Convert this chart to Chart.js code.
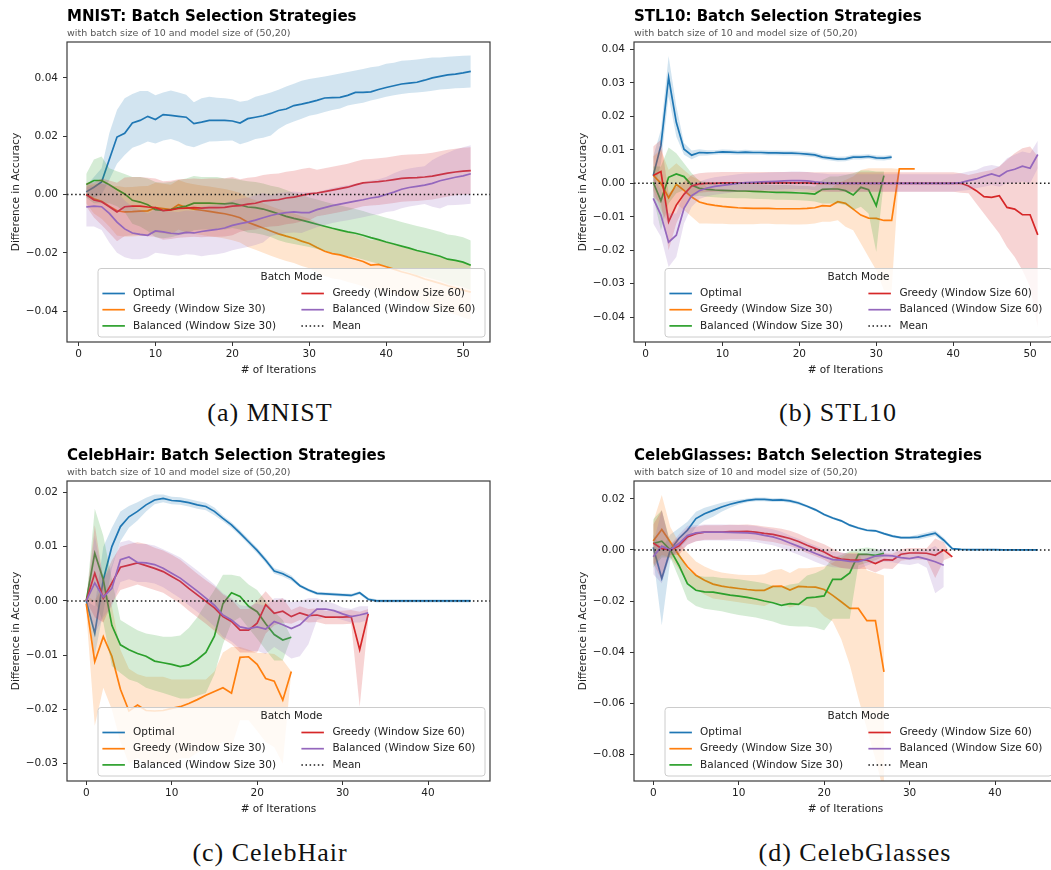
<!DOCTYPE html>
<html lang="en">
<head>
<meta charset="utf-8" />
<title>Batch Selection Strategies</title>
<script src="https://cdn.jsdelivr.net/npm/chart.js"></script>
<style>
  html, body { margin: 0; padding: 0; background: #fff; overflow: hidden; }
  body { width: 1051px; height: 870px; position: relative; }
  .panel { position: absolute; width: 500px; height: 390px; }
  .caption {
    position: absolute; transform: translateX(-50%); white-space: nowrap;
    font-family: "Liberation Serif", "DejaVu Serif", serif; font-size: 26px;
    letter-spacing: 1px; line-height: 28px; color: #111;
  }
</style>
</head>
<body>
<div class="panel" style="left:0;top:0"><canvas id="mnist" width="500" height="390"></canvas></div>
<div class="panel" style="left:567px;top:0"><canvas id="stl" width="500" height="390"></canvas></div>
<div class="panel" style="left:0;top:439px"><canvas id="hair" width="500" height="390"></canvas></div>
<div class="panel" style="left:567px;top:439px"><canvas id="glasses" width="500" height="390"></canvas></div>

<div class="caption" style="left:270px;top:399px">(a) MNIST</div>
<div class="caption" style="left:838px;top:399px">(b) STL10</div>
<div class="caption" style="left:270px;top:839px">(c) CelebHair</div>
<div class="caption" style="left:855px;top:839px">(d) CelebGlasses</div>

<script>
const seriesNames = ['Optimal', 'Greedy (Window Size 30)', 'Balanced (Window Size 30)',
                     'Greedy (Window Size 60)', 'Balanced (Window Size 60)'];
const seriesColors = ['#1f77b4', '#ff7f0e', '#2ca02c', '#d62728', '#9467bd'];
const meanLabel = 'Mean';
const meanLevel = 0;
const legendTitle = 'Batch Mode';
const subtitleText = 'with batch size of 10 and model size of (50,20)';
const xAxisLabel = '# of Iterations';
const yAxisLabel = 'Difference in Accuracy';

// ---------- MNIST ----------
const mnistIters = [1,2,3,4,5,6,7,8,9,10,11,12,13,14,15,16,17,18,19,20,21,22,23,24,25,26,27,28,29,30,
  31,32,33,34,35,36,37,38,39,40,41,42,43,44,45,46,47,48,49,50,51];
const mnistXRange = [-1.5, 53.5];
const mnistYRange = [-0.0506, 0.0523];
const mnistXTicks = [0, 10, 20, 30, 40, 50];
const mnistYTicks = [-0.04, -0.02, 0, 0.02, 0.04];

const mnistOptimal = [.0009,.0025,.0043,.012,.0197,.021,.0245,.0254,.0268,.0257,
  .0274,.0271,.0268,.0265,.0243,.0248,.0254,.0254,.0254,.0252,
  .0245,.026,.0265,.027,.0278,.0288,.0293,.0305,.031,.0316,
  .0323,.0331,.0332,.0333,.034,.035,.035,.0352,.036,.0367,
  .0373,.0379,.0382,.0385,.0392,.04,.0405,.041,.0413,.0417,.0422];
const mnistOptimalHi = [.003,.006,.009,.021,.029,.033,.0345,.0355,.0355,.034,
  .035,.0357,.035,.0342,.0316,.033,.0335,.0332,.033,.0327,
  .0318,.0322,.0335,.0342,.035,.0359,.037,.038,.039,.0396,
  .04,.0405,.041,.0415,.042,.0425,.043,.0436,.044,.0448,
  .0452,.0459,.046,.0463,.0466,.047,.047,.0472,.0474,.0476,.0477];
const mnistOptimalLo = [-.001,-.001,0,.005,.0105,.0135,.016,.017,.0182,.0175,
  .0185,.019,.0182,.0168,.0162,.0172,.0182,.0183,.0184,.0185,
  .0172,.018,.019,.0195,.0202,.0225,.024,.025,.026,.027,
  .0275,.0283,.029,.0295,.0305,.031,.0315,.0322,.0328,.0335,
  .034,.0345,.0348,.035,.0352,.0356,.036,.0362,.0364,.0365,.0367];

const mnistGreedy30 = [0,-.0015,-.0023,-.004,-.0056,-.006,-.0059,-.0057,-.0056,-.0045,
  -.0048,-.0052,-.0035,-.0045,-.005,-.0054,-.0058,-.0062,-.0066,-.0072,
  -.008,-.0095,-.0105,-.0115,-.0125,-.0135,-.0143,-.015,-.016,-.0168,
  -.0182,-.0195,-.0203,-.0207,-.0215,-.0222,-.023,-.0242,-.024,-.0248,
  -.0256,-.0265,-.0272,-.028,-.029,-.0297,-.0305,-.0313,-.032,-.0328,-.0335];
const mnistGreedy30Hi = [.003,.0035,.0037,.003,.0029,.0025,.0026,.0028,.0029,.004,
  .0037,.0033,.005,.004,.0035,.0031,.0027,.0023,.0019,.0013,
  .0005,-.001,-.002,-.003,-.004,-.005,-.0058,-.0065,-.0075,-.0083,
  -.0097,-.011,-.0118,-.0122,-.013,-.0137,-.0145,-.0157,-.0155,-.0165,
  -.0172,-.018,-.0186,-.0193,-.0202,-.0208,-.0215,-.0222,-.0228,-.0234,-.024];
const mnistGreedy30Lo = [-.003,-.0065,-.0083,-.011,-.0141,-.0145,-.0144,-.0142,-.0141,-.013,
  -.0133,-.0137,-.012,-.013,-.0135,-.0139,-.0143,-.0147,-.0151,-.0157,
  -.0165,-.018,-.019,-.02,-.021,-.022,-.0228,-.0235,-.0245,-.0253,
  -.0267,-.028,-.0288,-.0292,-.03,-.0307,-.0315,-.0327,-.0325,-.0331,
  -.034,-.035,-.0358,-.0367,-.0378,-.0386,-.0395,-.0404,-.0412,-.0422,-.043];

const mnistBalanced30 = [.0034,.0048,.0048,.0033,.0017,.0002,-.002,-.0026,-.0035,-.0052,
  -.0055,-.0052,-.0045,-.004,-.003,-.003,-.003,-.0031,-.0032,-.003,
  -.0036,-.0043,-.0045,-.005,-.0058,-.0066,-.0075,-.0082,-.0088,-.0095,
  -.0102,-.0109,-.0116,-.0122,-.0128,-.0133,-.014,-.0148,-.0155,-.0163,
  -.017,-.0177,-.0184,-.0192,-.0198,-.0205,-.0212,-.0222,-.0226,-.0232,-.0243];
const mnistBalanced30Hi = [.007,.012,.013,.009,.008,.007,.006,.006,.0055,.0043,
  .004,.0043,.005,.0055,.0063,.006,.006,.006,.0055,.0055,
  .005,.0045,.0043,.0038,.003,.0025,.0015,.0005,-.0002,-.001,
  -.0017,-.0025,-.0032,-.0038,-.0044,-.005,-.0057,-.0065,-.0072,-.008,
  -.0087,-.0094,-.0101,-.0108,-.0114,-.0121,-.0128,-.0137,-.0141,-.0147,-.0158];
const mnistBalanced30Lo = [-.001,-.003,-.003,-.003,-.004,-.006,-.01,-.011,-.0125,-.0147,
  -.015,-.0147,-.014,-.0135,-.0123,-.012,-.012,-.012,-.012,-.0115,
  -.012,-.013,-.0133,-.0138,-.0146,-.0157,-.0165,-.017,-.0175,-.018,
  -.0187,-.0193,-.02,-.0206,-.0212,-.0216,-.0223,-.0231,-.0238,-.0246,
  -.0253,-.026,-.0267,-.0276,-.0282,-.0289,-.0296,-.0307,-.0311,-.0317,-.0328];

const mnistGreedy60 = [0,-.0019,-.0025,-.0042,-.006,-.0042,-.004,-.004,-.0043,-.0045,
  -.0055,-.0053,-.0048,-.0047,-.0045,-.0047,-.0045,-.0045,-.0044,-.004,
  -.0038,-.0033,-.003,-.0023,-.002,-.0018,-.0012,-.0009,-.0003,.0002,
  .0005,.001,.0015,.002,.0025,.0033,.004,.0042,.0044,.0047,
  .0051,.0055,.0057,.0058,.006,.0063,.0068,.0073,.0077,.008,.0082];
const mnistGreedy60Hi = [.004,.0041,.0055,.0048,.004,.0058,.006,.006,.0057,.0055,
  .0045,.0047,.0052,.0053,.0055,.0053,.0055,.0055,.0056,.006,
  .0052,.0057,.006,.0067,.007,.0072,.0078,.0081,.0087,.0092,
  .0085,.009,.0095,.01,.0105,.0113,.012,.0122,.0124,.0127,
  .0131,.0135,.0137,.0138,.014,.0143,.0148,.0153,.0157,.016,.0162];
const mnistGreedy60Lo = [-.004,-.0079,-.0105,-.0132,-.016,-.0142,-.014,-.014,-.0143,-.0145,
  -.0155,-.0153,-.0148,-.0147,-.0145,-.0147,-.0145,-.0145,-.0144,-.014,
  -.0128,-.0123,-.012,-.0113,-.011,-.0108,-.0102,-.0099,-.0093,-.0088,
  -.0075,-.007,-.0065,-.006,-.0055,-.0047,-.004,-.0038,-.0036,-.0033,
  -.0029,-.0025,-.0023,-.0022,-.002,-.0017,-.0012,-.0007,-.0003,0,.0002];

const mnistBalanced60 = [-.0043,-.004,-.0042,-.0065,-.0095,-.0118,-.0132,-.0137,-.014,-.0125,
  -.0128,-.0133,-.0135,-.013,-.0132,-.0127,-.0123,-.012,-.0115,-.0106,
  -.01,-.0095,-.0088,-.008,-.0072,-.0066,-.0062,-.006,-.0062,-.0062,
  -.0052,-.0045,-.0038,-.0033,-.0028,-.0023,-.0018,-.0012,-.0008,0,
  .0008,.0018,.0024,.0028,.0032,.0038,.0047,.0053,.0059,.0064,.0071];
const mnistBalanced60Hi = [.0024,.003,.0038,.0035,.001,-.0021,-.0042,-.0052,-.0065,-.005,
  -.0053,-.0058,-.006,-.0055,-.0057,-.0042,-.0038,-.0035,-.003,-.0021,
  -.0015,-.001,-.0003,.0005,-.0002,.0004,.0008,.001,.0008,.0008,
  .0008,.0015,.0022,.0027,.0032,.0037,.0042,.0048,.0052,.006,
  .0073,.0083,.0089,.0093,.0097,.0118,.0132,.0143,.0154,.0162,.0169];
const mnistBalanced60Lo = [-.011,-.011,-.0122,-.0165,-.02,-.0215,-.0222,-.0222,-.0215,-.02,
  -.0203,-.0208,-.021,-.0205,-.0207,-.0212,-.0208,-.0205,-.02,-.0191,
  -.0185,-.018,-.0173,-.0165,-.0142,-.0136,-.0132,-.013,-.0132,-.0122,
  -.0112,-.0105,-.0098,-.0093,-.0088,-.0083,-.0078,-.0072,-.0068,-.006,
  -.0057,-.0047,-.0041,-.0037,-.0033,-.0042,-.0048,-.0037,-.0036,-.0034,-.0032];

// ---------- STL10 ----------
const stlIters = [1,2,3,4,5,6,7,8,9,10,11,12,13,14,15,16,17,18,19,20,21,22,23,24,25,26,27,28,29,30,
  31,32,33,34,35,36,37,38,39,40,41,42,43,44,45,46,47,48,49,50,51];
const stlXRange = [-1.5, 53.5];
const stlYRange = [-0.0474, 0.0422];
const stlXTicks = [0, 10, 20, 30, 40, 50];
const stlYTicks = [-0.04, -0.03, -0.02, -0.01, 0, 0.01, 0.02, 0.03, 0.04];

const stlOptimal = [.0023,.0113,.0316,.0182,.0102,.0084,.0092,.0091,.0092,.0094,
  .0093,.0092,.0093,.0092,.0092,.0091,.0091,.009,.009,.0089,
  .0087,.0085,.0078,.0075,.0072,.0073,.0078,.0078,.008,.0076,.0075,.0078];
const stlOptimalHi = [.008,.016,.038,.023,.012,.0098,.0102,.0099,.0099,.0101,
  .01,.0099,.01,.0099,.0099,.0098,.0098,.0097,.0097,.0096,
  .0094,.0092,.0085,.0082,.0079,.008,.0085,.0085,.0087,.0083,.0082,.0085];
const stlOptimalLo = [-.003,.006,.026,.014,.0085,.0072,.0082,.0083,.0085,.0087,
  .0086,.0085,.0086,.0085,.0085,.0084,.0084,.0083,.0083,.0082,
  .008,.0078,.0071,.0068,.0065,.0066,.0071,.0071,.0073,.0069,.0068,.0071];

const stlGreedy30 = [.0024,0,-.0043,-.0003,-.0021,-.0041,-.0056,-.0062,-.0066,-.0069,
  -.0071,-.0073,-.0074,-.0075,-.0075,-.0075,-.0076,-.0076,-.0076,-.0076,
  -.0075,-.0073,-.0067,-.0068,-.0055,-.006,-.0077,-.0095,-.0104,-.0105,
  -.0111,-.0111,.0043,.0043,.0043];
const stlGreedy30Hi = [.008,.01,.004,.006,.004,.002,.001,-.0012,-.0016,-.0019,
  -.0021,-.0023,-.0024,-.0025,-.0025,-.0025,-.0026,-.0026,-.0026,-.0026,
  -.0025,-.0023,-.002,-.0018,0,.001,.002,.004,.0045,.0045,
  .0045,.0045,.0043,.0043,.0043];
const stlGreedy30Lo = [-.002,-.008,-.012,-.006,-.008,-.01,-.012,-.012,-.0121,-.0121,
  -.0122,-.0122,-.0122,-.0122,-.0121,-.0121,-.0122,-.0122,-.0123,-.0123,
  -.0122,-.012,-.0115,-.0115,-.011,-.013,-.014,-.018,-.022,-.026,
  -.032,-.032,.0043,.0043,.0043];

const stlBalanced30 = [.0003,-.0052,.0018,.0028,.002,-.0005,-.0015,-.0018,-.002,-.0021,
  -.0022,-.0023,-.0023,-.0024,-.0025,-.0026,-.0027,-.0027,-.0028,-.0029,
  -.003,-.0032,-.0018,-.0017,-.0017,-.0022,-.0035,-.0012,-.0019,-.0067,.0023];
const stlBalanced30Hi = [.005,.005,.0107,.009,.006,.003,.0007,.0004,.0002,.0001,
  0,-.0001,-.0001,-.0002,-.0003,-.0004,-.0005,-.0005,-.0006,-.0007,
  -.0008,-.001,.001,.002,.002,.0025,.003,.0038,.0038,.0035,.0035];
const stlBalanced30Lo = [-.004,-.014,-.006,-.003,-.002,-.004,-.0037,-.004,-.0042,-.0043,
  -.0044,-.0045,-.0045,-.0046,-.0047,-.0048,-.0049,-.0049,-.005,-.0051,
  -.0052,-.0054,-.006,-.006,-.006,-.0065,-.008,-.007,-.009,-.0205,.001];

const stlGreedy60 = [.0023,.0035,-.0115,-.0065,-.0033,-.0008,-.0002,0,0,.0001,
  .0001,.0001,.0001,.0001,.0001,.0001,.0001,.0001,.0001,.0001,
  .0001,0,0,0,0,0,0,0,0,0,
  0,0,0,0,0,0,0,0,0,0,
  0,-.0008,-.0022,-.004,-.0042,-.0037,-.0072,-.0077,-.0094,-.0094,-.0154];
const stlGreedy60Hi = [.011,.013,-.003,-.001,.0005,.0025,.003,.0032,.0033,.0034,
  .0034,.0034,.0034,.0034,.0034,.0034,.0034,.0034,.0034,.0034,
  .0034,.0033,.0033,.0033,.0033,.0033,.0033,.0033,.0033,.0033,
  .0033,.0033,.0033,.0033,.0033,.0033,.0033,.0033,.0033,.0033,
  .003,.0025,.003,.0035,.004,.005,.007,.009,.0105,.011,.008];
const stlGreedy60Lo = [-.004,-.006,-.02,-.012,-.007,-.004,-.0028,-.0026,-.0025,-.0025,
  -.0025,-.0025,-.0025,-.0025,-.0025,-.0025,-.0025,-.0025,-.0025,-.0025,
  -.0025,-.0025,-.0025,-.0025,-.0025,-.0025,-.0025,-.0025,-.0025,-.0025,
  -.0025,-.0025,-.0025,-.0025,-.0025,-.0025,-.0025,-.0025,-.0025,-.0025,
  -.0028,-.003,-.006,-.009,-.012,-.015,-.019,-.022,-.026,-.031,-.043];

const stlBalanced60 = [-.0045,-.0095,-.0176,-.0155,-.0075,-.0037,-.0022,-.0014,-.0009,-.0006,
  -.0003,0,.0002,.0003,.0004,.0005,.0006,.0007,.0008,.0008,
  .0007,.0004,.0002,0,0,0,0,0,0,0,
  0,0,0,0,0,0,0,0,0,0,
  .0002,.0008,.0013,.0021,.0028,.0021,.0036,.0042,.0051,.0045,.0086];
const stlBalanced60Hi = [.002,-.002,-.009,-.009,-.003,0,.0005,.0013,.0018,.0021,
  .0024,.0027,.0029,.003,.0031,.0032,.0033,.0034,.0035,.0035,
  .0034,.0031,.0029,.0027,.0027,.0027,.0027,.0027,.0027,.0027,
  .0027,.0027,.0027,.0027,.0027,.0027,.0027,.0027,.0027,.0027,
  .003,.0035,.004,.005,.0055,.005,.0075,.0085,.0095,.009,.0127];
const stlBalanced60Lo = [-.012,-.016,-.025,-.022,-.012,-.007,-.0047,-.0039,-.0034,-.0031,
  -.0028,-.0025,-.0023,-.0022,-.0021,-.002,-.0019,-.0018,-.0017,-.0017,
  -.0018,-.0021,-.0023,-.0025,-.0025,-.0025,-.0025,-.0025,-.0025,-.0025,
  -.0025,-.0025,-.0025,-.0025,-.0025,-.0025,-.0025,-.0025,-.0025,-.0025,
  -.0022,-.002,-.0015,-.001,-.0005,-.001,0,0,.0005,0,.0045];

// ---------- CelebHair ----------
const hairIters = [0,1,2,3,4,5,6,7,8,9,10,11,12,13,14,15,16,17,18,19,20,21,22,23,24,25,26,27,28,29,
  30,31,32,33,34,35,36,37,38,39,40,41,42,43,44,45];
const hairXRange = [-2.25, 47.25];
const hairYRange = [-0.0332, 0.0221];
const hairXTicks = [0, 10, 20, 30, 40];
const hairYTicks = [-0.03, -0.02, -0.01, 0, 0.01, 0.02];

const hairOptimal = [0,-.006,.0039,.01,.0137,.0155,.0165,.0177,.0186,.0189,
  .0185,.0184,.0181,.0177,.0174,.0165,.0152,.014,.0125,.0109,
  .0093,.0075,.0055,.005,.0042,.0028,.002,.0014,.0013,.0012,
  .0011,.001,.0015,.0003,0,0,0,0,0,0,0,0,0,0,0,0];
const hairOptimalHi = [0,-.001,.01,.0135,.0165,.0175,.0182,.019,.0196,.0196,
  .0192,.0191,.0188,.0184,.0181,.0172,.0157,.0145,.013,.0114,
  .0098,.008,.006,.0055,.0047,.0031,.0023,.0017,.0016,.0015,
  .0014,.0013,.0018,.0006,.0003,.0003,.0003,.0003,.0003,.0003,
  .0003,.0003,.0003,.0003,.0003,.0003];
const hairOptimalLo = [0,-.01,-.002,.006,.011,.0135,.0148,.0165,.0178,.0182,
  .0178,.0177,.0174,.017,.0167,.0158,.0147,.0135,.012,.0104,
  .0088,.007,.005,.0045,.0037,.0025,.0017,.0011,.001,.0009,
  .0008,.0007,.0012,0,-.0003,-.0003,-.0003,-.0003,-.0003,-.0003,
  -.0003,-.0003,-.0003,-.0003,-.0003,-.0003];

const hairGreedy30 = [-.0005,-.0112,-.0066,-.0102,-.0163,-.0203,-.0192,-.0202,-.0203,-.0202,
  -.0198,-.0195,-.0189,-.0182,-.0174,-.0167,-.016,-.017,-.0104,-.0103,
  -.0117,-.0143,-.0148,-.0183,-.013];
const hairGreedy30Hi = [.001,0,.003,-.001,-.009,-.0125,-.0135,-.014,-.014,-.014,
  -.0145,-.0145,-.0145,-.0145,-.0145,-.013,-.0095,-.0085,-.0085,-.009,
  -.0096,-.0096,-.0098,-.0109,-.013];
const hairGreedy30Lo = [-.002,-.023,-.016,-.02,-.026,-.03,-.029,-.03,-.03,-.03,
  -.03,-.029,-.029,-.028,-.027,-.027,-.026,-.027,-.022,-.022,
  -.024,-.026,-.027,-.03,-.013];

const hairBalanced30 = [0,.0088,.0039,-.0045,-.0081,-.009,-.0097,-.0102,-.0111,-.0114,
  -.0117,-.0121,-.0118,-.0108,-.0095,-.0065,-.0005,.0015,.0008,-.001,
  -.002,-.0042,-.0062,-.0072,-.0067];
const hairBalanced30Hi = [0,.017,.012,.004,-.0035,-.0045,-.0054,-.006,-.0063,-.0066,
  -.0066,-.0064,-.005,-.003,-.0005,.002,.0048,.0048,.0045,.003,
  .002,0,-.002,-.0035,-.0067];
const hairBalanced30Lo = [0,0,-.004,-.012,-.0133,-.0145,-.015,-.016,-.0165,-.017,
  -.0175,-.018,-.018,-.0175,-.017,-.0135,-.008,-.004,-.003,-.005,
  -.007,-.009,-.011,-.011,-.0067];

const hairGreedy60 = [0,.0051,.0005,.0033,.0062,.0066,.007,.0065,.006,.0054,
  .0045,.0036,.0023,.0011,-.0001,-.0013,-.0029,-.0038,-.0054,-.0054,
  -.0041,-.0007,-.0023,-.0019,-.0029,-.0022,-.0027,-.0026,-.003,-.003,
  -.003,-.0029,-.009,-.0024];
const hairGreedy60Hi = [0,.014,.004,.0075,.01,.0105,.0108,.0105,.0098,.0093,
  .0085,.0076,.0063,.005,.0038,.0027,.0012,.0002,-.0015,-.0015,
  0,.0018,0,.0005,-.0017,-.001,-.0015,-.0014,-.0018,-.0018,
  -.0018,-.0017,-.002,-.0015];
const hairGreedy60Lo = [0,-.003,-.004,-.0005,.002,.0025,.003,.0025,.002,.0015,
  .0005,-.0005,-.0018,-.003,-.0042,-.0055,-.007,-.008,-.0095,-.0095,
  -.0095,-.006,-.0045,-.004,-.0042,-.0035,-.004,-.0039,-.0043,-.0043,
  -.0043,-.0042,-.0195,-.0035];

const hairBalanced60 = [0,.0033,.0007,.0023,.0076,.0081,.0071,.007,.0067,.006,
  .0051,.0042,.003,.0018,.0005,-.0008,-.0026,-.0035,-.0048,-.0051,
  -.0048,-.0052,-.0038,-.0044,-.0051,-.0044,-.0029,-.0015,-.0015,-.0018,
  -.0024,-.0029,-.0026,-.0022];
const hairBalanced60Hi = [0,.012,.004,.0065,.0108,.0112,.0105,.0105,.0102,.0095,
  .0088,.008,.0068,.0056,.0043,.003,.0014,.0005,-.0008,-.001,
  -.0005,-.001,.0005,.0005,-.0002,0,.0005,.0005,0,-.0005,
  -.0012,-.0015,-.001,-.001];
const hairBalanced60Lo = [0,-.006,-.003,-.001,.0035,.004,.0035,.0035,.0032,.0025,
  .0015,.0005,-.0008,-.002,-.0033,-.0047,-.0066,-.0075,-.0088,-.0093,
  -.0092,-.0098,-.0085,-.0095,-.0106,-.0102,-.008,-.0035,-.003,-.003,
  -.0035,-.004,-.004,-.0035];

// ---------- CelebGlasses ----------
const glassesIters = [0,1,2,3,4,5,6,7,8,9,10,11,12,13,14,15,16,17,18,19,20,21,22,23,24,25,26,27,28,29,
  30,31,32,33,34,35,36,37,38,39,40,41,42,43,44,45];
const glassesXRange = [-2.25, 47.25];
const glassesYRange = [-0.0905, 0.027];
const glassesXTicks = [0, 10, 20, 30, 40];
const glassesYTicks = [-0.08, -0.06, -0.04, -0.02, 0, 0.02];

const glassesOptimal = [.001,-.0112,0,.0045,.0077,.0123,.0142,.0155,.0168,.0179,
  .0187,.0194,.0198,.0198,.0195,.0196,.0192,.0184,.0171,.0157,
  .0139,.0125,.0114,.0097,.0086,.0077,.0075,.0064,.0054,.0048,
  .0048,.005,.0058,.0066,.0038,.0005,.0002,.0001,.0001,.0001,
  .0001,0,0,0,0,0];
const glassesOptimalHi = [.006,.0005,.006,.0085,.011,.015,.0165,.0175,.0185,.0192,
  .0197,.0201,.0205,.0205,.0202,.0203,.0199,.0191,.0176,.0162,
  .0144,.013,.0119,.0102,.0091,.0082,.008,.0069,.0059,.0053,
  .0053,.006,.0068,.0076,.0048,.001,.0005,.0004,.0004,.0004,
  .0004,.0003,.0003,.0003,.0003,.0003];
const glassesOptimalLo = [-.003,-.0295,-.004,.0005,.004,.009,.0115,.013,.015,.0165,
  .0178,.0187,.0191,.0191,.0188,.0189,.0185,.0177,.0166,.0152,
  .0134,.012,.0109,.0092,.0081,.0072,.007,.0059,.0049,.0043,
  .0043,.004,.0048,.0056,.0028,0,-.0001,-.0002,-.0002,-.0002,
  -.0002,-.0003,-.0003,-.0003,-.0003,-.0003];

const glassesGreedy30 = [.0035,.008,.0031,-.0021,-.0066,-.0099,-.0119,-.0134,-.0142,-.0147,
  -.0151,-.0155,-.0158,-.0158,-.0143,-.0142,-.0157,-.0143,-.0145,-.0146,
  -.0155,-.0178,-.0203,-.0229,-.0229,-.0277,-.0277,-.0478];
const glassesGreedy30Hi = [.011,.0215,.009,.003,-.001,-.0045,-.0065,-.008,-.0088,-.0093,
  -.0097,-.0098,-.0098,-.0095,-.008,-.0075,-.009,-.0072,-.0072,-.0068,
  -.0065,-.005,-.003,-.001,-.001,-.008,-.009,-.01];
const glassesGreedy30Lo = [-.006,-.002,-.003,-.0075,-.0125,-.0155,-.0175,-.019,-.0195,-.02,
  -.0205,-.021,-.0215,-.022,-.0205,-.021,-.0225,-.0215,-.022,-.0225,
  -.026,-.028,-.035,-.045,-.058,-.07,-.082,-.095];

const glassesBalanced30 = [.0025,.0034,0,-.006,-.0132,-.0158,-.0164,-.0165,-.0171,-.0177,
  -.0181,-.0186,-.0192,-.02,-.0207,-.0217,-.021,-.0213,-.0188,-.0185,
  -.018,-.0115,-.0115,-.009,-.0017,-.0017,-.0021,-.0013];
const glassesBalanced30Hi = [.012,.0155,.003,-.001,-.0075,-.01,-.0105,-.0105,-.011,-.0112,
  -.0115,-.012,-.0125,-.013,-.014,-.0145,-.0135,-.013,-.01,-.009,
  -.0075,-.003,-.002,-.0005,.0005,.001,.0005,-.0005];
const glassesBalanced30Lo = [-.007,-.003,-.003,-.011,-.0195,-.022,-.023,-.0235,-.024,-.0248,
  -.0255,-.026,-.0265,-.0272,-.028,-.0292,-.0298,-.03,-.03,-.0305,
  -.0315,-.027,-.027,-.027,-.006,-.005,-.004,-.0025];

const glassesGreedy60 = [.0027,.0005,0,.0015,.0051,.0064,.007,.007,.007,.0072,
  .0072,.0073,.007,.0065,.0061,.0053,.0045,.0033,.0018,.0005,
  -.0008,-.0027,-.0036,-.0039,-.004,-.004,-.0053,-.0038,-.004,-.0017,
  -.0012,-.0012,-.0013,-.0021,0,-.0027];
const glassesGreedy60Hi = [.01,.0155,.002,.005,.0085,.0091,.0097,.0097,.0097,.0099,
  .0099,.01,.0097,.0092,.0088,.0083,.0075,.0063,.0048,.0035,
  .0022,.0005,-.0011,-.0014,-.0015,-.0015,-.0028,-.0013,-.0015,.0003,
  .0008,.0008,.0007,.0045,.003,-.0027];
const glassesGreedy60Lo = [-.005,-.012,-.002,-.002,.002,.0034,.004,.004,.004,.0042,
  .0042,.0043,.004,.0035,.0031,.0023,.0015,.0003,-.0012,-.0025,
  -.0038,-.006,-.0071,-.0074,-.0075,-.0075,-.0088,-.0073,-.0075,-.0042,
  -.0037,-.0037,-.0038,-.011,-.004,-.0027];

const glassesBalanced60 = [-.0027,.0015,0,.0025,.0057,.0067,.007,.007,.007,.0069,
  .0068,.0067,.0064,.0057,.0051,.0041,.0027,.0014,0,-.0014,
  -.0027,-.0038,-.004,-.0045,-.0046,-.0036,-.0024,-.0021,-.0023,-.003,
  -.0034,-.0027,-.0036,-.0046,-.006];
const glassesBalanced60Hi = [.0025,.0155,.002,.006,.0095,.0097,.01,.01,.01,.0099,
  .0098,.0097,.0094,.0087,.0081,.0071,.0057,.0044,.003,.0016,
  .0003,-.0008,-.001,-.0015,-.0016,-.0011,.0001,.0004,.0002,-.0005,
  -.0009,-.0002,0,.0015,-.0015];
const glassesBalanced60Lo = [-.0095,-.013,-.002,-.001,.002,.0034,.0037,.0037,.0037,.0036,
  .0035,.0034,.0031,.0024,.0018,.0008,-.0006,-.0019,-.0033,-.0047,
  -.006,-.0068,-.007,-.0075,-.0076,-.0061,-.0049,-.0046,-.0048,-.0055,
  -.0059,-.0052,-.007,-.017,-.0145];

const panels = [
  { id: 'mnist', title: 'MNIST: Batch Selection Strategies', iters: mnistIters,
    xRange: mnistXRange, yRange: mnistYRange, xTicks: mnistXTicks, yTicks: mnistYTicks,
    series: [[mnistOptimal, mnistOptimalLo, mnistOptimalHi],
             [mnistGreedy30, mnistGreedy30Lo, mnistGreedy30Hi],
             [mnistBalanced30, mnistBalanced30Lo, mnistBalanced30Hi],
             [mnistGreedy60, mnistGreedy60Lo, mnistGreedy60Hi],
             [mnistBalanced60, mnistBalanced60Lo, mnistBalanced60Hi]] },
  { id: 'stl', title: 'STL10: Batch Selection Strategies', iters: stlIters,
    xRange: stlXRange, yRange: stlYRange, xTicks: stlXTicks, yTicks: stlYTicks,
    series: [[stlOptimal, stlOptimalLo, stlOptimalHi],
             [stlGreedy30, stlGreedy30Lo, stlGreedy30Hi],
             [stlBalanced30, stlBalanced30Lo, stlBalanced30Hi],
             [stlGreedy60, stlGreedy60Lo, stlGreedy60Hi],
             [stlBalanced60, stlBalanced60Lo, stlBalanced60Hi]] },
  { id: 'hair', title: 'CelebHair: Batch Selection Strategies', iters: hairIters,
    xRange: hairXRange, yRange: hairYRange, xTicks: hairXTicks, yTicks: hairYTicks,
    series: [[hairOptimal, hairOptimalLo, hairOptimalHi],
             [hairGreedy30, hairGreedy30Lo, hairGreedy30Hi],
             [hairBalanced30, hairBalanced30Lo, hairBalanced30Hi],
             [hairGreedy60, hairGreedy60Lo, hairGreedy60Hi],
             [hairBalanced60, hairBalanced60Lo, hairBalanced60Hi]] },
  { id: 'glasses', title: 'CelebGlasses: Batch Selection Strategies', iters: glassesIters,
    xRange: glassesXRange, yRange: glassesYRange, xTicks: glassesXTicks, yTicks: glassesYTicks,
    series: [[glassesOptimal, glassesOptimalLo, glassesOptimalHi],
             [glassesGreedy30, glassesGreedy30Lo, glassesGreedy30Hi],
             [glassesBalanced30, glassesBalanced30Lo, glassesBalanced30Hi],
             [glassesGreedy60, glassesGreedy60Lo, glassesGreedy60Hi],
             [glassesBalanced60, glassesBalanced60Lo, glassesBalanced60Hi]] }
];

const FONT = '"DejaVu Sans", Verdana, sans-serif';
const TEXT = '#222';
const LINE_W = 1.7;
const MEAN_DASH = [1.5, 2.6];

function toPoints(iters, values) {
  return values.map((v, i) => ({ x: iters[i], y: v }));
}

function withAlpha(hex, a) {
  const n = parseInt(hex.slice(1), 16);
  return `rgba(${(n >> 16) & 255},${(n >> 8) & 255},${n & 255},${a})`;
}

function fmtY(v) {
  const s = Math.abs(v).toFixed(2);
  return v < 0 ? '\u2212' + s : s;
}

function buildDatasets(p) {
  const sets = [];
  p.series.forEach(([mean, lo, hi], i) => {
    // earlier series sit underneath later ones
    const order = seriesNames.length + 1 - i;
    const color = seriesColors[i];
    sets.push({ label: seriesNames[i], data: toPoints(p.iters, mean), borderColor: color,
      borderWidth: LINE_W, pointRadius: 0, fill: false, order });
    sets.push({ label: seriesNames[i] + ' hi', data: toPoints(p.iters, hi), borderColor: 'rgba(0,0,0,0)',
      borderWidth: 0, pointRadius: 0, fill: false, order });
    sets.push({ label: seriesNames[i] + ' lo', data: toPoints(p.iters, lo), borderColor: 'rgba(0,0,0,0)',
      borderWidth: 0, pointRadius: 0, fill: '-1', backgroundColor: withAlpha(color, 0.2), order });
  });
  sets.push({ label: meanLabel,
    data: [{ x: p.xRange[0], y: meanLevel }, { x: p.xRange[1], y: meanLevel }],
    borderColor: '#1a1a1a', borderWidth: 1.5, borderDash: MEAN_DASH, pointRadius: 0, fill: false, order: 0 });
  return sets;
}

// title, subtitle, frame and the two-column legend
const panelDecor = {
  id: 'panelDecor',
  afterDatasetsDraw(chart, args, opts) {
    const { ctx, chartArea: a } = chart;
    const w = 387, h = 68.5;
    const lx = a.right - 5 - w, ly = a.bottom - 5 - h;
    ctx.save();
    ctx.beginPath();
    const r = 3;
    ctx.moveTo(lx + r, ly);
    ctx.lineTo(lx + w - r, ly); ctx.arcTo(lx + w, ly, lx + w, ly + r, r);
    ctx.lineTo(lx + w, ly + h - r); ctx.arcTo(lx + w, ly + h, lx + w - r, ly + h, r);
    ctx.lineTo(lx + r, ly + h); ctx.arcTo(lx, ly + h, lx, ly + h - r, r);
    ctx.lineTo(lx, ly + r); ctx.arcTo(lx, ly, lx + r, ly, r);
    ctx.closePath();
    ctx.fillStyle = 'rgba(255,255,255,0.8)';
    ctx.fill();
    ctx.strokeStyle = '#cccccc';
    ctx.lineWidth = 1;
    ctx.stroke();

    ctx.font = `10.5px ${FONT}`;
    ctx.fillStyle = TEXT;
    ctx.textBaseline = 'middle';
    ctx.textAlign = 'center';
    ctx.fillText(legendTitle, lx + w / 2, ly + 9);

    ctx.textAlign = 'left';
    opts.items.forEach((item, k) => {
      const col = k < 3 ? 0 : 1;
      const y = ly + 25 + (k % 3) * 16.2;
      const hx = lx + (col ? 203.4 : 4.4);
      ctx.beginPath();
      ctx.setLineDash(item.dash || []);
      ctx.strokeStyle = item.color;
      ctx.lineWidth = item.dash ? 1.5 : LINE_W;
      ctx.moveTo(hx, y);
      ctx.lineTo(hx + 22.5, y);
      ctx.stroke();
      ctx.setLineDash([]);
      ctx.fillStyle = TEXT;
      ctx.fillText(item.text, lx + (col ? 234.4 : 35), y);
    });
    ctx.restore();
  },
  afterDraw(chart, args, opts) {
    const { ctx, chartArea: a } = chart;
    ctx.save();
    ctx.strokeStyle = '#3b3b3b';
    ctx.lineWidth = 1.2;
    ctx.strokeRect(a.left, a.top, a.right - a.left, a.bottom - a.top);
    ctx.textAlign = 'left';
    ctx.textBaseline = 'alphabetic';
    ctx.fillStyle = '#000';
    ctx.font = `bold 15px ${FONT}`;
    ctx.fillText(opts.title, a.left, 21);
    ctx.fillStyle = '#555';
    ctx.font = `9.5px ${FONT}`;
    ctx.fillText(opts.subtitle, a.left, 35.5);
    ctx.restore();
  }
};

const legendItems = seriesNames.map((n, i) => ({ text: n, color: seriesColors[i] }))
  .concat([{ text: meanLabel, color: '#1a1a1a', dash: MEAN_DASH }]);

function axisCommon() {
  return {
    type: 'linear',
    border: { display: false },
    grid: { drawOnChartArea: false, drawTicks: true, tickLength: 4, tickColor: '#333', tickWidth: 1 },
  };
}

panels.forEach(p => {
  const ctx = document.getElementById(p.id).getContext('2d');
  new Chart(ctx, {
    type: 'line',
    data: { datasets: buildDatasets(p) },
    plugins: [panelDecor],
    options: {
      responsive: false,
      animation: false,
      devicePixelRatio: 1,
      events: [],
      layout: { padding: { top: 42, right: 10, left: 0, bottom: 0 } },
      plugins: {
        legend: { display: false },
        tooltip: { enabled: false },
        panelDecor: { title: p.title, subtitle: subtitleText, items: legendItems }
      },
      scales: {
        x: Object.assign(axisCommon(), {
          min: p.xRange[0], max: p.xRange[1],
          afterBuildTicks: s => { s.ticks = p.xTicks.map(v => ({ value: v })); },
          afterFit: s => { s.height = 48; },
          ticks: { autoSkip: false, maxRotation: 0, padding: 2, color: TEXT,
                   font: { family: FONT, size: 10.5 }, callback: v => String(v) },
          title: { display: true, text: xAxisLabel, color: TEXT,
                   font: { family: FONT, size: 10.5 }, padding: { top: 0, bottom: 13.7 } }
        }),
        y: Object.assign(axisCommon(), {
          min: p.yRange[0], max: p.yRange[1],
          afterBuildTicks: s => { s.ticks = p.yTicks.map(v => ({ value: v })); },
          afterFit: s => { s.width = 67; },
          ticks: { autoSkip: false, padding: 5, color: TEXT,
                   font: { family: FONT, size: 10.5 }, callback: v => fmtY(v) },
          title: { display: true, text: yAxisLabel, color: TEXT,
                   font: { family: FONT, size: 10.5 }, padding: { top: 9.5, bottom: 0 } }
        })
      }
    }
  });
});
</script>
</body>
</html>
